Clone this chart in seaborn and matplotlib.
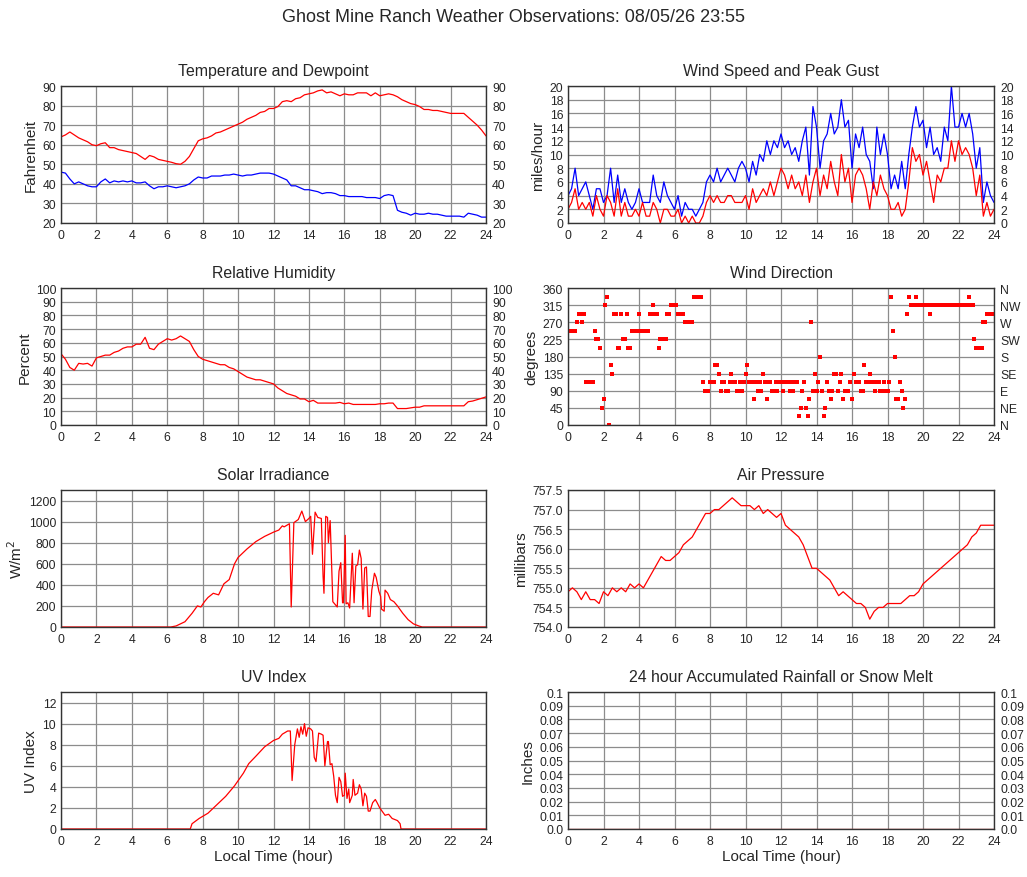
import numpy as np
import pandas as pd
import seaborn as sns
import matplotlib
matplotlib.use("Agg")
import matplotlib.pyplot as plt

sns.set_style("white")
plt.rcParams["font.family"] = ["Liberation Sans", "DejaVu Sans"]

# ---------------------------------------------------------------------------
# data (local hour of day)
# ---------------------------------------------------------------------------
hours_q = np.linspace(0, 24, 97)    # every 15 minutes
hours_w = np.linspace(0, 24, 121)   # every 12 minutes
hours_d = np.linspace(0, 24, 241)   # every 6 minutes

temperature = [
    64, 65, 66.5, 65, 63.5, 62.5, 61.5, 60, 59.5, 60.5, 61, 58.5,
    58.5, 57.5, 57, 56.5, 56, 55.5, 54, 52.5, 54.5, 53.8, 52.5, 52,
    51.5, 51, 50.3, 50, 51.5, 54, 58, 62, 63, 63.5, 64.5, 66,
    66.5, 67.5, 68.5, 69.5, 70.5, 71.5, 73, 74, 75, 76.5, 77, 78.5,
    78.5, 79.5, 82, 82.5, 82, 83.5, 84, 85.5, 86, 86.5, 87.5, 88,
    86.5, 87, 86, 85, 86, 85.5, 85.5, 86.5, 86.5, 86.5, 85, 86.5,
    85, 85.5, 86, 85.5, 84.5, 83, 82, 81, 80.5, 79.5, 78, 78,
    77.5, 77.5, 77, 76.5, 76, 76, 76, 76, 74, 72, 70, 67.5, 64.5,
]
dewpoint = [
    46, 45.5, 42.5, 40, 41, 40, 39, 38.5, 38.5, 41, 42.5, 40.5,
    41.5, 41, 41.5, 41, 41.5, 40.5, 40.5, 41, 39, 37.5, 38.5, 38.5,
    39, 38.5, 38, 38.5, 39, 40, 42, 43.5, 43, 43, 44, 44,
    44, 44.5, 44.5, 45, 44.5, 44, 44.5, 44.5, 45, 45.5, 45.5, 45.5,
    45, 44, 43, 42, 39, 39, 38, 37, 37, 36.5, 36, 35,
    35.5, 35.5, 35, 34, 34, 33.5, 33.5, 33.5, 33.5, 33, 33, 33,
    32.5, 34, 34.5, 34, 26.5, 25.5, 25, 24, 25, 24.5, 24.5, 25,
    24.5, 24.5, 24, 23.5, 23.5, 23.5, 23.5, 23, 25, 24.5, 24, 23, 23,
]
humidity = [
    52, 48, 42, 40, 45, 44.5, 45, 43, 49, 50, 51, 51,
    53, 54, 56, 57, 57, 59, 59, 64, 56, 55, 59, 61,
    63, 62, 63, 65, 63, 61, 55, 50, 48, 47, 46, 45,
    44, 44, 42, 41, 39, 37, 35, 34, 33, 33, 32, 31,
    30, 27, 25, 23, 22, 21, 19, 19, 17, 18, 16, 16,
    16, 16, 16, 16.5, 15.5, 16, 15, 15, 15, 15, 15, 15,
    15.5, 15.5, 16, 16, 12, 12, 12, 12.5, 13, 13, 14, 14,
    14, 14, 14, 14, 14, 14, 14, 14, 17, 17.5, 18.5, 19.5, 20.5,
]
pressure = [
    754.9, 755.0, 754.9, 754.7, 754.9, 754.7, 754.7, 754.6,
    754.9, 754.8, 755.0, 754.9, 755.0, 754.9, 755.1, 755.0,
    755.1, 755.0, 755.2, 755.4, 755.6, 755.8, 755.7, 755.7,
    755.8, 755.9, 756.1, 756.2, 756.3, 756.5, 756.7, 756.9,
    756.9, 757.0, 757.0, 757.1, 757.2, 757.3, 757.2, 757.1,
    757.1, 757.1, 757.0, 757.1, 756.9, 757.0, 756.9, 756.8,
    756.9, 756.6, 756.5, 756.4, 756.3, 756.1, 755.8, 755.5,
    755.5, 755.4, 755.3, 755.2, 755.0, 754.8, 754.9, 754.8,
    754.7, 754.6, 754.6, 754.5, 754.2, 754.4, 754.5, 754.5,
    754.6, 754.6, 754.6, 754.6, 754.7, 754.8, 754.8, 754.9,
    755.1, 755.2, 755.3, 755.4, 755.5, 755.6, 755.7, 755.8,
    755.9, 756.0, 756.1, 756.3, 756.4, 756.6, 756.6, 756.6, 756.6,
]
wind_gust = [
    4, 5, 8, 4, 5, 6, 4, 2, 5, 5, 3, 4, 8, 3, 7, 3, 5, 3, 2, 3,
    5, 3, 3, 3, 7, 4, 3, 6, 4, 3, 2, 4, 1, 3, 2, 2, 1, 2, 3, 6,
    7, 6, 8, 6, 7, 8, 7, 6, 8, 9, 8, 6, 9, 7, 10, 9, 12, 10, 12, 11,
    13, 11, 12, 10, 11, 9, 12, 14, 7, 17, 14, 8, 12, 13, 16,
    13, 14, 18, 14, 15, 8, 13, 11, 14, 10, 9, 5, 14, 10, 13,
    10, 5, 7, 5, 9, 5, 10, 14, 17, 14, 15, 11, 14, 10, 11,
    9, 14, 12, 20, 14, 14, 16, 14, 16, 13, 8, 11, 3, 6, 4, 3,
]
wind_speed = [
    2, 3, 5, 2, 3, 2, 3, 1, 4, 2, 1, 4, 3, 1, 5, 1, 3, 1, 1, 2,
    1, 3, 1, 1, 3, 2, 0, 2, 2, 1, 1, 2, 0, 1, 0, 1, 0, 0, 1, 3,
    4, 3, 4, 3, 3, 4, 4, 3, 3, 3, 4, 2, 5, 3, 4, 5, 4, 6, 4, 6,
    8, 7, 5, 7, 5, 6, 4, 7, 3, 6, 8, 4, 7, 5, 9,
    6, 4, 10, 6, 8, 3, 7, 8, 7, 5, 2, 6, 4, 7, 5,
    4, 2, 2, 3, 1, 2, 6, 11, 9, 10, 7, 9, 6, 3, 7,
    6, 8, 8, 12, 9, 12, 10, 11, 10, 8, 4, 7, 1, 3, 1, 2,
]
wind_dir = [
    247.5, 247.5, 247.5, 247.5, 247.5, 270, 292.5, 292.5, 270, 292.5,
    112.5, 112.5, 112.5, 112.5, 112.5, 247.5, 225, 225, 202.5, 45,
    67.5, 315, 337.5, 0, 157.5, 135, 292.5, 292.5, 202.5, 202.5,
    292.5, 225, 225, 292.5, 202.5, 202.5, 247.5, 247.5, 247.5, 247.5,
    292.5, 247.5, 247.5, 247.5, 247.5, 247.5, 292.5, 292.5, 315, 292.5,
    292.5, 202.5, 225, 225, 225, 225, 292.5, 292.5, 315, 315,
    315, 315, 292.5, 292.5, 292.5, 292.5, 270, 270, 270, 270,
    270, 337.5, 337.5, 337.5, 337.5, 337.5, 112.5, 90, 90, 90,
    112.5, 112.5, 112.5, 157.5, 157.5, 135, 90, 112.5, 112.5, 90,
    90, 112.5, 135, 112.5, 112.5, 90, 90, 112.5, 90, 112.5,
    135, 157.5, 112.5, 112.5, 112.5, 67.5, 112.5, 90, 112.5, 90,
    135, 112.5, 67.5, 112.5, 112.5, 90, 90, 112.5, 90, 112.5,
    112.5, 90, 112.5, 112.5, 112.5, 90, 112.5, 90, 112.5, 112.5,
    22.5, 45, 90, 112.5, 45, 22.5, 67.5, 270, 90, 135,
    90, 112.5, 180, 90, 22.5, 45, 112.5, 90, 67.5, 90,
    135, 135, 90, 112.5, 135, 67.5, 90, 90, 90, 112.5,
    67.5, 135, 112.5, 112.5, 112.5, 90, 90, 157.5, 112.5, 112.5,
    135, 112.5, 112.5, 90, 112.5, 112.5, 90, 90, 112.5, 90,
    90, 112.5, 337.5, 247.5, 180, 67.5, 67.5, 112.5, 90, 45,
    67.5, 292.5, 337.5, 315, 315, 315, 337.5, 315, 315, 315,
    315, 315, 315, 315, 292.5, 315, 315, 315, 315, 315,
    315, 315, 315, 315, 315, 315, 315, 315, 315, 315,
    315, 315, 315, 315, 315, 315, 337.5, 315, 315, 225,
    202.5, 202.5, 202.5, 202.5, 270, 270, 292.5, 292.5, 292.5, 292.5,
    292.5,
]

solar_hours = [
    0, 6.2, 6.5, 7.0, 7.4, 7.7, 7.9, 8.1, 8.3, 8.6, 8.9, 9.2, 9.5, 9.8,
    10.0, 10.5, 11.0, 11.5, 12.0, 12.3, 12.5, 12.6, 12.8, 12.9, 13.0, 13.15,
    13.4, 13.6, 13.8, 14.0, 14.1, 14.2, 14.35, 14.5, 14.7, 14.8, 14.85, 14.95,
    15.05, 15.1, 15.2, 15.35, 15.45, 15.6, 15.7, 15.8, 15.9, 15.95, 16.05, 16.1,
    16.2, 16.3, 16.45, 16.55, 16.65, 16.75, 16.85, 16.95, 17.05, 17.15, 17.25,
    17.35, 17.45, 17.55, 17.7, 17.8, 17.95, 18.05, 18.1, 18.25, 18.3, 18.45,
    18.6, 18.8, 19.0, 19.3, 19.6, 19.9, 20.2, 20.4, 24,
]
solar = [
    0, 0, 10, 50, 130, 200, 190, 240, 280, 320, 305, 410, 450, 600,
    660, 740, 810, 860, 900, 920, 960, 950, 970, 980, 190, 990,
    1020, 1100, 1000, 1030, 1050, 690, 1090, 1040, 1030, 480, 320, 1050,
    1040, 800, 1010, 240, 220, 190, 530, 610, 230, 230, 870, 220,
    230, 180, 700, 230, 580, 590, 730, 650, 170, 560, 570,
    100, 100, 350, 510, 470, 340, 290, 170, 150, 350, 320,
    260, 240, 200, 130, 70, 30, 10, 0, 0,
]

uv_hours = [
    0, 7.3, 7.4, 7.8, 8.3, 8.8, 9.3, 9.8, 10.3, 10.6, 11.0, 11.5, 12.0, 12.3,
    12.5, 12.8, 12.95, 13.05, 13.2, 13.35, 13.45, 13.55, 13.65, 13.75, 13.85,
    13.95, 14.1, 14.2, 14.3, 14.4, 14.55, 14.7, 14.8, 14.9, 15.05, 15.1, 15.2,
    15.3, 15.4, 15.5, 15.6, 15.7, 15.8, 15.9, 16.0, 16.05, 16.15, 16.25, 16.3,
    16.45, 16.5, 16.6, 16.75, 16.85, 16.95, 17.05, 17.15, 17.25, 17.35, 17.45,
    17.6, 17.75, 17.85, 18.0, 18.3, 18.5, 18.7, 19.0, 19.15, 19.2, 24,
]
uv_index = [
    0, 0, 0.5, 1.0, 1.5, 2.3, 3.1, 4.1, 5.3, 6.2, 6.9, 7.8, 8.4, 8.6,
    9.0, 9.3, 9.3, 4.6, 8.0, 9.5, 8.7, 9.7, 9.0, 10.0, 8.8,
    9.6, 9.5, 9.3, 6.8, 6.4, 9.1, 9.0, 8.9, 6.0, 8.3, 8.3, 6.1,
    6.2, 5.0, 3.2, 2.5, 4.9, 4.5, 3.1, 3.2, 5.3, 2.9, 3.8, 2.5,
    3.2, 4.7, 3.2, 3.4, 4.2, 3.8, 2.2, 3.4, 3.1, 1.7, 1.7,
    2.5, 2.8, 2.5, 2.0, 1.3, 1.4, 1.0, 0.8, 0.5, 0, 0,
]

rain_hours = [0, 24]
rain = [0.0, 0.0]

hour_ticks = list(range(0, 25, 2))
compass_labels = ["N", "NE", "E", "SE", "S", "SW", "W", "NW", "N"]
rain_labels = ["0.0", "0.01", "0.02", "0.03", "0.04", "0.05",
               "0.06", "0.07", "0.08", "0.09", "0.1"]

RED = "#ff0000"
BLUE = "#0000ff"
GRID = "#8c8c8c"
TICK_FS = 8.8
LABEL_FS = 11

# ---------------------------------------------------------------------------
# layout
# ---------------------------------------------------------------------------
W, H = 1027, 878
fig = plt.figure(figsize=(W / 100, H / 100), dpi=100)


def make_axes(col, row):
    left = 61 if col == 0 else 568
    width = 425 if col == 0 else 426
    top = [87, 289, 491, 693][row]
    return fig.add_axes([left / W, 1 - (top + 137) / H, width / W, 137 / H])


def style(ax, title, ylabel, ylim, yticks, ylabels=None, right_labels=None,
          xlabel=None):
    ax.set_xlim(0, 24)
    ax.set_xticks(hour_ticks)
    ax.set_ylim(*ylim)
    ax.set_yticks(yticks)
    if ylabels is not None:
        ax.set_yticklabels(ylabels)
    ax.grid(True, color=GRID, linewidth=0.9)
    ax.set_axisbelow(True)
    ax.tick_params(axis="x", length=0, labelsize=TICK_FS, pad=4)
    ax.tick_params(axis="y", length=0, labelsize=TICK_FS, pad=3.5)
    for sp in ax.spines.values():
        sp.set_color("#333333")
        sp.set_linewidth(1)
    ax.set_title(title, fontsize=11.4, pad=8)
    ax.set_ylabel(ylabel, fontsize=LABEL_FS, labelpad=3)
    ax.set_xlabel(xlabel if xlabel else "", fontsize=LABEL_FS, labelpad=2)
    if right_labels is not None:
        ax2 = ax.twinx()
        ax2.set_ylim(*ylim)
        ax2.set_yticks(yticks)
        ax2.set_yticklabels(right_labels)
        ax2.tick_params(length=0, labelsize=TICK_FS, pad=4.5)
        for sp in ax2.spines.values():
            sp.set_visible(False)


def line(ax, x, y, color):
    sns.lineplot(x=x, y=y, ax=ax, color=color, linewidth=0.9,
                 estimator=None, sort=False)


# --- temperature and dewpoint ---
ax = make_axes(0, 0)
line(ax, hours_q, temperature, RED)
line(ax, hours_q, dewpoint, BLUE)
t_ticks = list(range(20, 91, 10))
style(ax, "Temperature and Dewpoint", "Fahrenheit", (20, 90), t_ticks,
      right_labels=[str(t) for t in t_ticks])

# --- wind speed and gust ---
ax = make_axes(1, 0)
line(ax, hours_w, wind_gust, BLUE)
line(ax, hours_w, wind_speed, RED)
w_ticks = list(range(0, 21, 2))
style(ax, "Wind Speed and Peak Gust", "miles/hour", (0, 20), w_ticks,
      right_labels=[str(t) for t in w_ticks])

# --- relative humidity ---
ax = make_axes(0, 1)
line(ax, hours_q, humidity, RED)
h_ticks = list(range(0, 101, 10))
style(ax, "Relative Humidity", "Percent", (0, 100), h_ticks,
      right_labels=[str(t) for t in h_ticks])

# --- wind direction ---
ax = make_axes(1, 1)
sns.scatterplot(x=hours_d, y=wind_dir, ax=ax, color=RED, marker="s", s=8,
                linewidth=0)
d_ticks = list(range(0, 361, 45))
style(ax, "Wind Direction", "degrees", (0, 360), d_ticks,
      right_labels=compass_labels)

# --- solar irradiance ---
ax = make_axes(0, 2)
line(ax, solar_hours, solar, RED)
style(ax, "Solar Irradiance", "W/m$^2$", (0, 1300), list(range(0, 1201, 200)))

# --- air pressure ---
ax = make_axes(1, 2)
line(ax, hours_q, pressure, RED)
p_ticks = list(np.arange(754.0, 757.51, 0.5))
style(ax, "Air Pressure", "millibars", (754.0, 757.5), p_ticks,
      ylabels=[f"{p:.1f}" for p in p_ticks])

# --- uv index ---
ax = make_axes(0, 3)
line(ax, uv_hours, uv_index, RED)
style(ax, "UV Index", "UV Index", (0, 13), list(range(0, 13, 2)),
      xlabel="Local Time (hour)")

# --- rainfall ---
ax = make_axes(1, 3)
line(ax, rain_hours, rain, RED)
r_ticks = list(np.linspace(0, 0.1, 11))
style(ax, "24 hour Accumulated Rainfall or Snow Melt", "Inches", (0, 0.1),
      r_ticks, ylabels=rain_labels, right_labels=rain_labels,
      xlabel="Local Time (hour)")

fig.text(0.5, 1 - 18 / H, "Ghost Mine Ranch Weather Observations: 08/05/26 23:55",
         ha="center", va="center", fontsize=13)

fig.savefig("out.png", dpi=100)
